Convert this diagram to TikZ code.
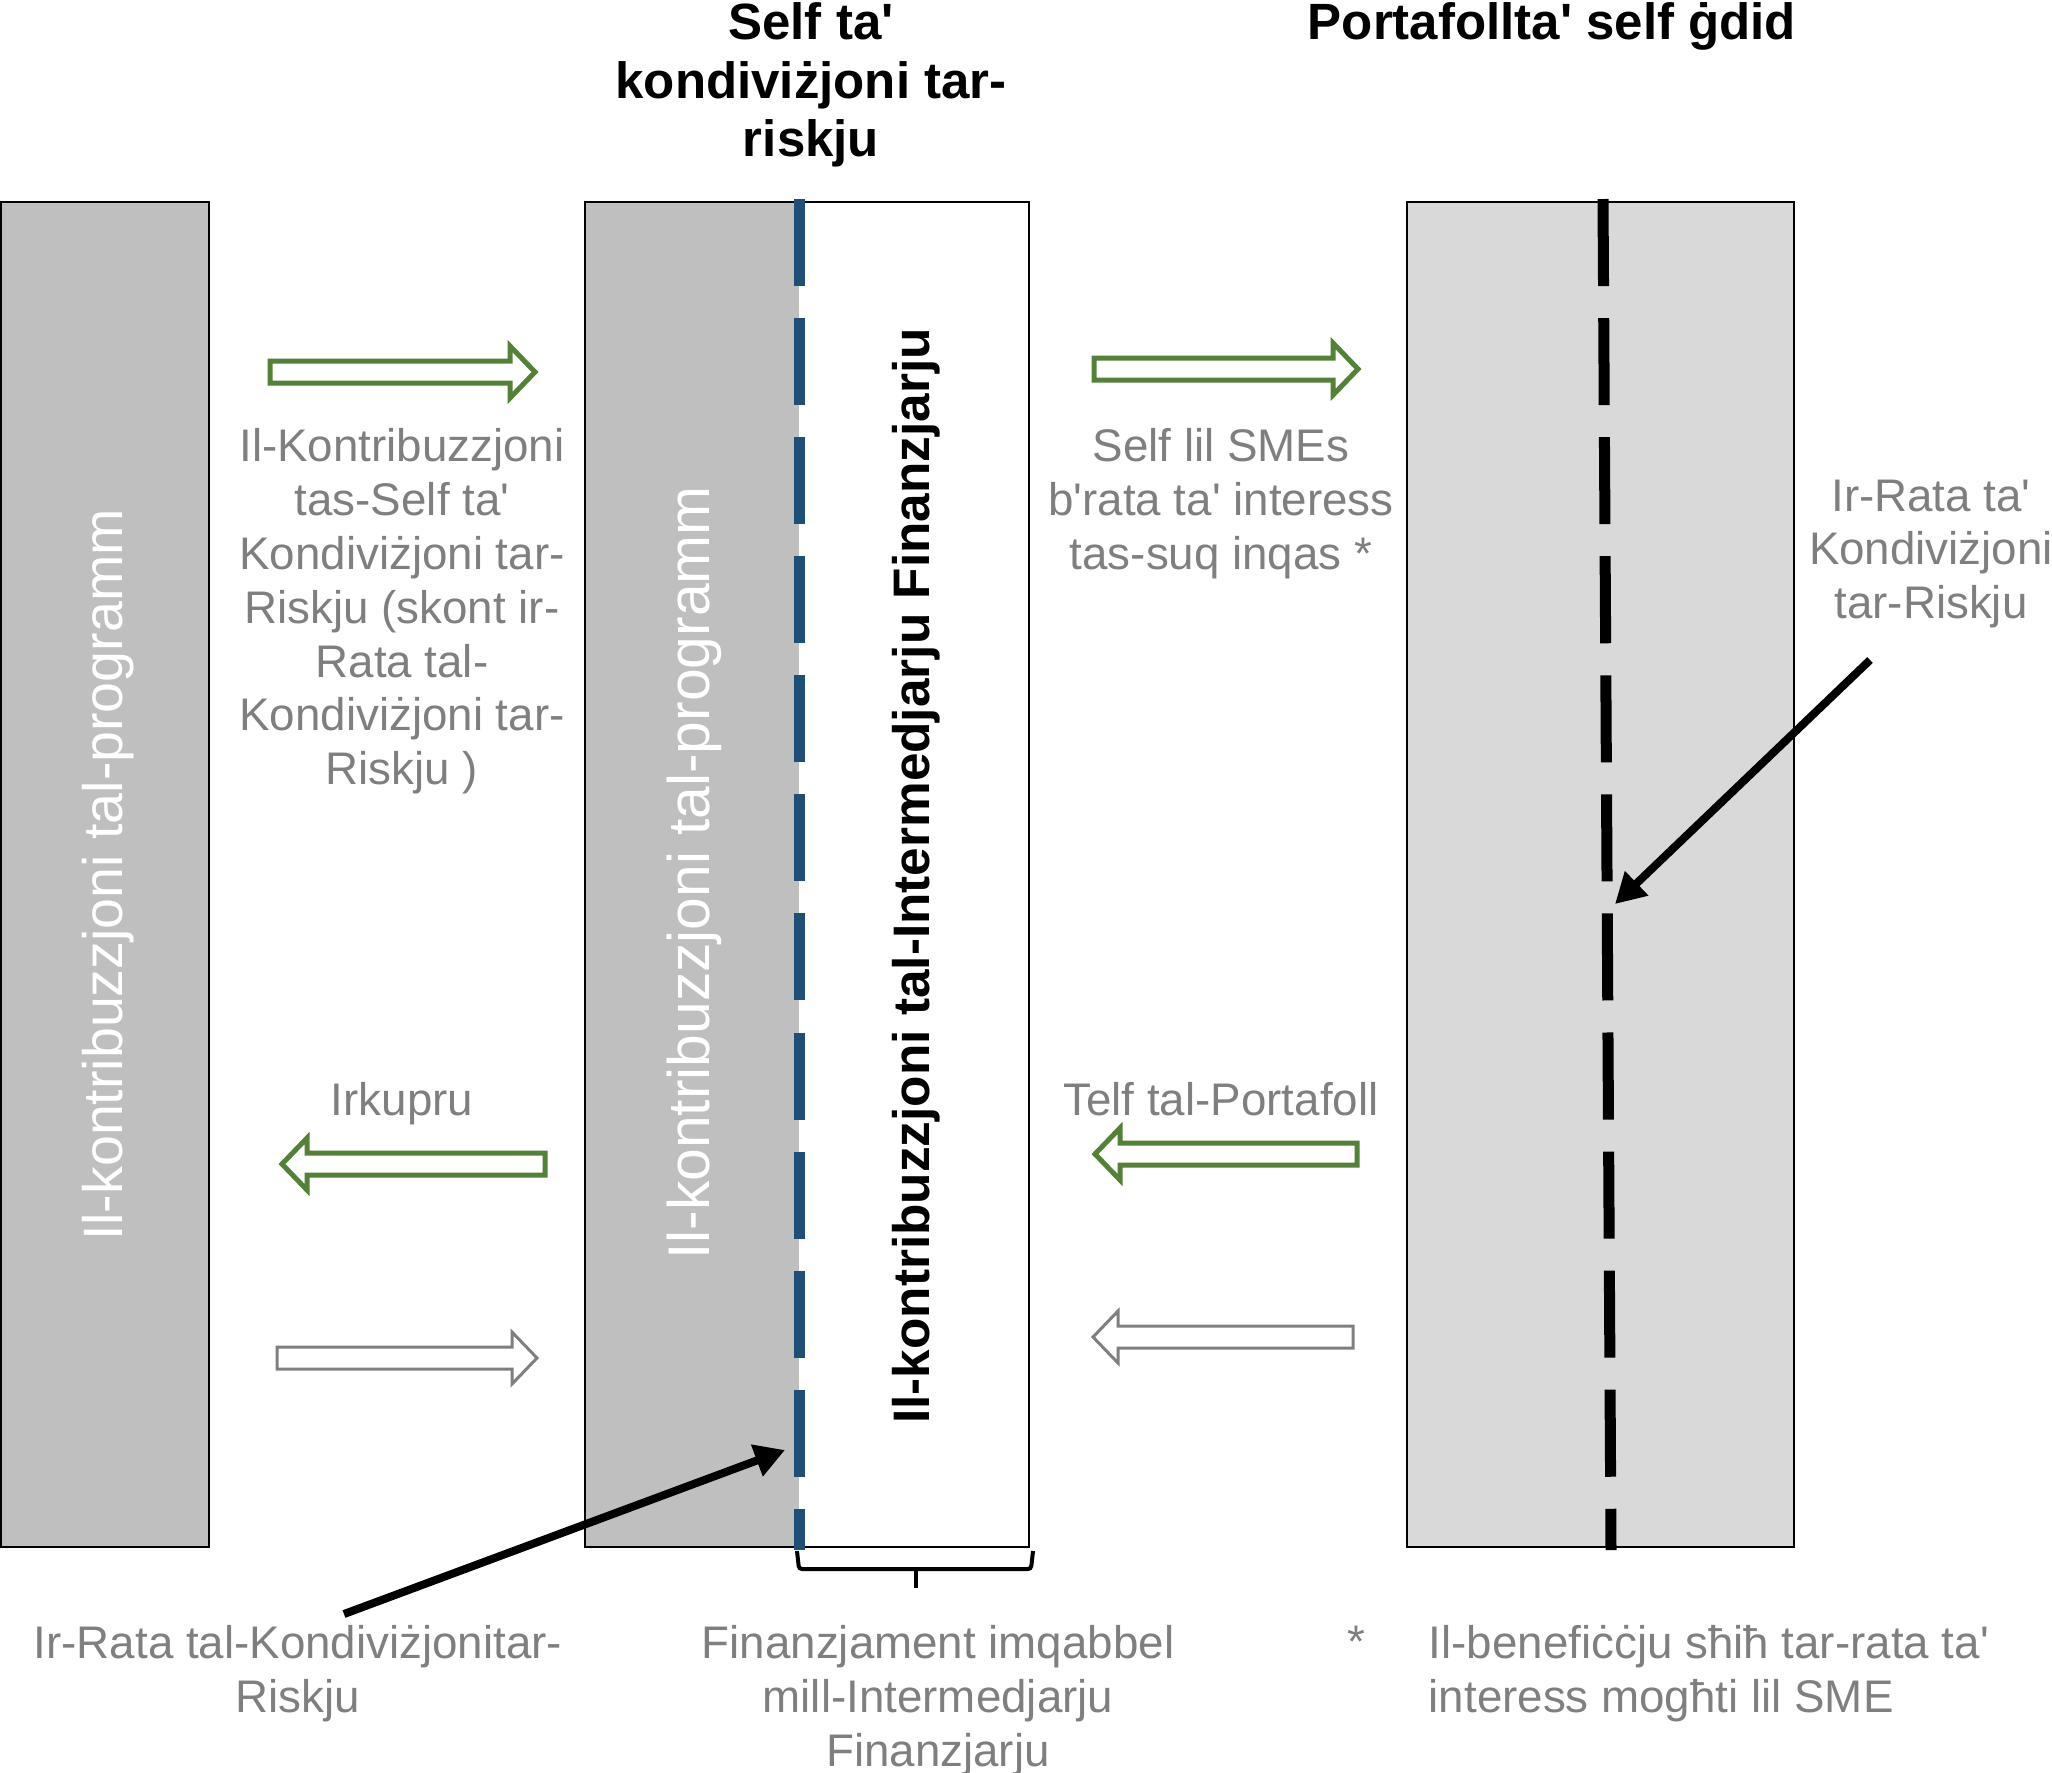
\documentclass[tikz,border=0pt]{standalone}
\usepackage{fontspec}
\setmainfont{Liberation Sans}[Ligatures=TeXOff]
\usetikzlibrary{arrows.meta}
\definecolor{progray}{HTML}{BFBFBF}
\definecolor{portgray}{HTML}{D9D9D9}
\definecolor{flowgreen}{HTML}{538135}
\definecolor{notegray}{HTML}{7F7F7F}
\definecolor{splitblue}{HTML}{1F4E79}

% hollow block arrow: style, tail x, tip x, y
\newcommand{\blockarrow}[4]{%
  \pgfmathsetmacro{\headx}{#3-25*sign(#3-#2)}%
  \draw[#1] (#2,#4-11) -- (\headx,#4-11) -- (\headx,#4-26) -- (#3,#4)
    -- (\headx,#4+26) -- (\headx,#4+11) -- (#2,#4+11) -- cycle;}

\begin{document}
\begin{tikzpicture}[x=0.01cm, y=-0.01cm,
  boxshape/.style={draw=black, line width=0.02cm, minimum height=13.45cm, inner sep=0pt},
  notetext/.style={text=notegray, font=\fontsize{13}{15.3}\selectfont, align=center, inner sep=0pt, anchor=north},
  titletext/.style={font=\fontsize{14.5}{16.6}\selectfont\bfseries, align=center, inner sep=0pt, anchor=north},
  vlabel/.style={rotate=90, inner sep=0pt},
  flowgrn/.style={draw=flowgreen, line width=0.05cm, fill=white},
  flowgry/.style={draw=notegray, line width=0.03cm, fill=white},
  pointer/.style={line width=0.08cm, -{Triangle[length=0.3cm, width=0.32cm]}},
  cutline/.style={line width=0.11cm, dash pattern=on 0.87cm off 0.32cm}]
  \useasboundingbox (0,0) rectangle (2052,1772);

  % the three columns
  \node[boxshape, fill=progray, minimum width=2.08cm] (progbox) at (105,874.5) {};
  \node[boxshape, fill=white, minimum width=4.44cm] (selfbox) at (807,874.5) {};
  \fill[progray] (586,203) rectangle (799,1546);
  \node[boxshape, fill=portgray, minimum width=3.87cm] (portbox) at (1600.5,874.5) {};

  % split lines
  \draw[cutline, splitblue] (799,199) -- (799,1550);
  \draw[cutline, black] (1603,199) -- (1611,1550);

  % column texts
  \node[vlabel, text=white, font=\fontsize{15.8}{18}\selectfont] (progtxt) at (108,875) {Il-kontribuzzjoni tal-programm};
  \node[vlabel, text=white, font=\fontsize{16.7}{19}\selectfont] (progtxt2) at (694,873) {Il-kontribuzzjoni tal-programm};
  \node[vlabel, font=\fontsize{14.6}{17}\selectfont\bfseries] (intertxt) at (916,876) {Il-kontribuzzjoni tal-Intermedjarju Finanzjarju};

  % headings
  \node[titletext] (selftitle) at (811,2) {Self ta'\\kondiviżjoni tar-\\riskju};
  \node[titletext] (porttitle) at (1552,2) {Portafollta' self ġdid};

  % flows between the columns
  \blockarrow{flowgrn}{270}{535}{372}
  \blockarrow{flowgrn}{1094}{1358}{369}
  \blockarrow{flowgrn}{545}{282}{1164}
  \blockarrow{flowgrn}{1357}{1095}{1154}
  \blockarrow{flowgry}{277}{537}{1358}
  \blockarrow{flowgry}{1353}{1093}{1337}

  \node[notetext] (contrib) at (402,428) {Il-Kontribuzzjoni\\tas-Self ta'\\Kondiviżjoni tar-\\Riskju (skont ir-\\Rata tal-\\Kondiviżjoni tar-\\Riskju )};
  \node[notetext] (smeloan) at (1221,428) {Self lil SMEs\\b'rata ta' interess\\tas-suq inqas *};
  \node[notetext] (raterisk) at (1931,479) {Ir-Rata ta'\\Kondiviżjoni\\tar-Riskju};
  \node[notetext] (buyback) at (402,1082) {Irkupru};
  \node[notetext] (loss) at (1221,1082) {Telf tal-Portafoll};

  % bottom notes
  \node[notetext] (ratenote) at (298,1625) {Ir-Rata tal-Kondiviżjonitar-\\Riskju};
  \node[notetext] (fundnote) at (938,1625) {Finanzjament imqabbel\\mill-Intermedjarju\\Finanzjarju};
  \node[notetext] (star) at (1356,1625) {*};
  \node[notetext, anchor=north west, align=left] (benefit) at (1428,1625) {Il-benefiċċju sħiħ tar-rata ta'\\interess mogħti lil SME};

  % brace under the intermediary part
  \draw[line width=0.04cm, rounded corners=0.03cm] (797,1551) -- (799,1569) -- (1031,1569) -- (1033,1551);
  \draw[line width=0.04cm] (916,1569) -- (916,1588);

  % pointers to the split lines
  \coordinate (ratestart) at (344,1614);
  \coordinate (rateend) at (785,1450);
  \draw[pointer] (ratestart) -- (rateend);
  \coordinate (riskstart) at (1870,660);
  \coordinate (riskend) at (1615,904);
  \draw[pointer] (riskstart) -- (riskend);
\end{tikzpicture}
\end{document}
